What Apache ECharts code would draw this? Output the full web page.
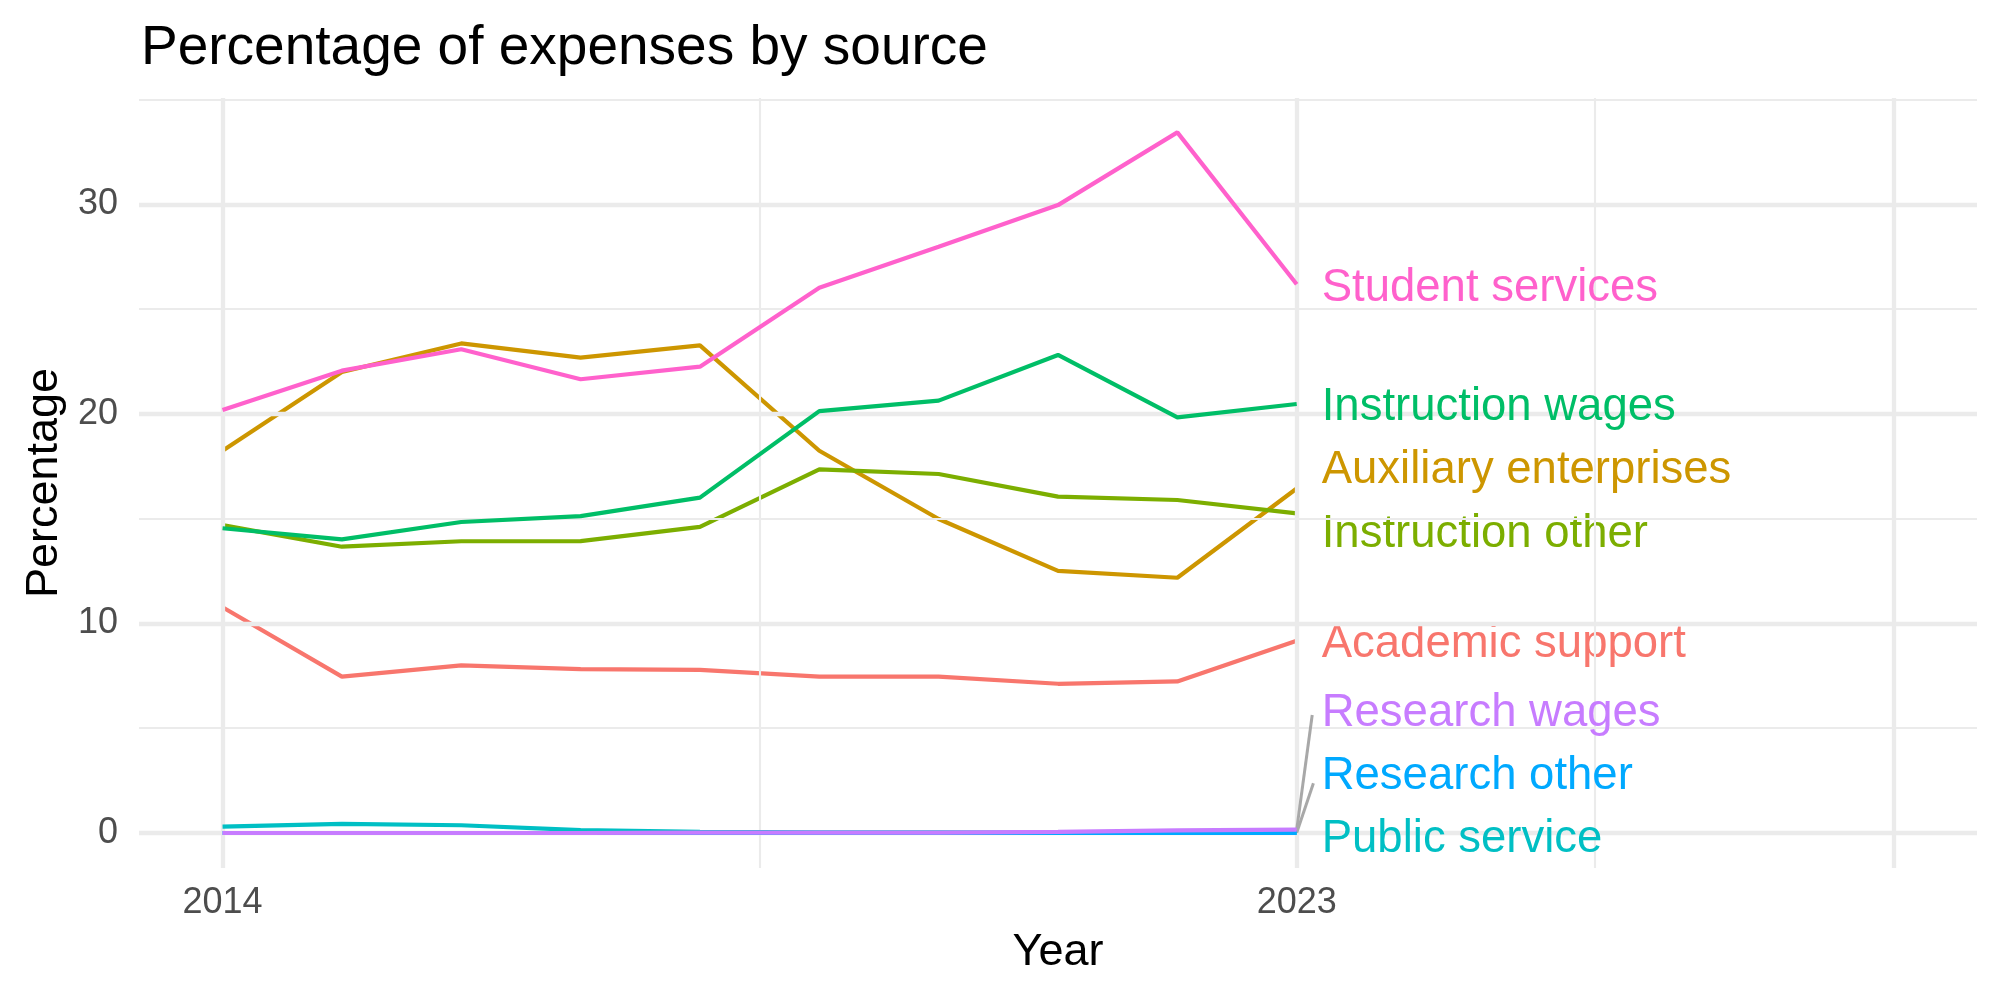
<!DOCTYPE html>
<html>
<head>
<meta charset="utf-8">
<title>Percentage of expenses by source</title>
<script src="https://cdn.jsdelivr.net/npm/echarts@6/dist/echarts.min.js"></script>
<style>
  html, body { margin: 0; padding: 0; background: #fff; }
  #chart { width: 2000px; height: 1000px; }
</style>
</head>
<body>
<div id="chart"></div>
<script>
// data
const years = [2014, 2015, 2016, 2017, 2018, 2019, 2020, 2021, 2022, 2023]
const academicSupport = [10.77, 7.46, 8.0, 7.82, 7.78, 7.46, 7.46, 7.12, 7.23, 9.17]
const auxiliaryEnterprises = [18.24, 22.0, 23.36, 22.68, 23.27, 18.24, 14.98, 12.51, 12.18, 16.44]
const instructionOther = [14.69, 13.66, 13.92, 13.93, 14.61, 17.35, 17.13, 16.05, 15.89, 15.25]
const instructionWages = [14.54, 14.01, 14.84, 15.12, 16.0, 20.13, 20.63, 22.81, 19.83, 20.47]
const publicService = [0.3, 0.44, 0.37, 0.14, 0.06, 0.03, 0.03, 0.02, 0.02, 0.02]
const researchOther = [0, 0, 0, 0, 0, 0, 0, 0, 0.01, 0.01]
const researchWages = [0, 0, 0, 0, 0.02, 0.02, 0.02, 0.05, 0.13, 0.16]
const studentServices = [20.18, 22.06, 23.08, 21.65, 22.25, 26.02, 27.97, 29.96, 33.43, 26.18]

const seriesNames = ["Academic support", "Auxiliary enterprises", "Instruction other", "Instruction wages",
  "Public service", "Research other", "Research wages", "Student services"]
const seriesValues = [academicSupport, auxiliaryEnterprises, instructionOther, instructionWages,
  publicService, researchOther, researchWages, studentServices]
const seriesColors = ["#F8766D", "#CD9600", "#7CAE00", "#00BE67", "#00BFC4", "#00A9FF", "#C77CFF", "#FF61CC"]

// label nudges (repel layout), px
const labelShift = [4, -18, 21, 3, 7, -56, -116, 4]
// leader line ends for the repelled labels near zero
const leaderEnds = { "Research other": [2023.14, 2.37], "Research wages": [2023.13, 5.63] }

const xMajor = [2014, 2023, 2028]
const xMinor = [2018.5, 2025.5]
const yMajor = [0, 10, 20, 30]
const yMinor = [5, 15, 25, 35]

const font = "Liberation Sans, Arial, sans-serif"
const gridColor = "#EBEBEB"

const chart = echarts.init(document.getElementById("chart"))

const gridLines = []
xMajor.forEach((v) => gridLines.push({ xAxis: v, lineStyle: { width: 4.3 } }))
xMinor.forEach((v) => gridLines.push({ xAxis: v, lineStyle: { width: 2.1 } }))
yMajor.forEach((v) => gridLines.push({ yAxis: v, lineStyle: { width: 4.3 } }))
yMinor.forEach((v) => gridLines.push({ yAxis: v, lineStyle: { width: 2.1 } }))

const series = [
  {
    name: "grid",
    type: "line",
    data: [],
    silent: true,
    z: 0,
    markLine: {
      silent: true,
      symbol: "none",
      animation: false,
      label: { show: false },
      lineStyle: { color: gridColor, type: "solid" },
      data: gridLines
    }
  }
]

seriesNames.forEach((name, i) => {
  const vals = seriesValues[i]
  const s = {
    name: name,
    type: "line",
    z: 2 + i,
    data: years.map((y, j) => [y, vals[j]]),
    showSymbol: false,
    lineStyle: { color: seriesColors[i], width: 4.2 },
    itemStyle: { color: seriesColors[i] },
    endLabel: {
      show: true,
      formatter: name,
      color: seriesColors[i],
      fontSize: 45.5,
      fontFamily: font,
      distance: 25,
      offset: [0, labelShift[i]]
    }
  }
  if (leaderEnds[name]) {
    const last = years.length - 1
    s.markLine = {
      silent: true,
      symbol: "none",
      animation: false,
      label: { show: false },
      lineStyle: { color: "#A8A8A8", width: 3, type: "solid" },
      data: [[{ coord: [years[last], vals[last]] }, { coord: leaderEnds[name] }]]
    }
  }
  series.push(s)
})

chart.setOption({
  animation: false,
  backgroundColor: "#fff",
  title: {
    text: "Percentage of expenses by source",
    left: 136,
    top: 16,
    textStyle: { fontSize: 55, fontWeight: "normal", color: "#000", fontFamily: font }
  },
  grid: { left: 139, right: 23, top: 98, bottom: 132 },
  xAxis: {
    type: "value",
    min: 2013.3,
    max: 2028.7,
    name: "Year",
    nameLocation: "middle",
    nameGap: 62,
    nameTextStyle: { fontSize: 45, color: "#000", fontFamily: font },
    axisLine: { show: false },
    axisTick: { show: false },
    splitLine: { show: false },
    axisLabel: {
      customValues: [2014, 2023],
      formatter: (v) => String(v),
      fontSize: 36,
      color: "#4D4D4D",
      fontFamily: font,
      margin: 17
    }
  },
  yAxis: {
    type: "value",
    min: -1.67,
    max: 35.07,
    name: "Percentage",
    nameLocation: "middle",
    nameGap: 72,
    nameTextStyle: { fontSize: 45, color: "#000", fontFamily: font },
    axisLine: { show: false },
    axisTick: { show: false },
    splitLine: { show: false },
    axisLabel: {
      customValues: yMajor,
      fontSize: 36,
      color: "#4D4D4D",
      fontFamily: font,
      margin: 21
    }
  },
  series: series
})
</script>
</body>
</html>
